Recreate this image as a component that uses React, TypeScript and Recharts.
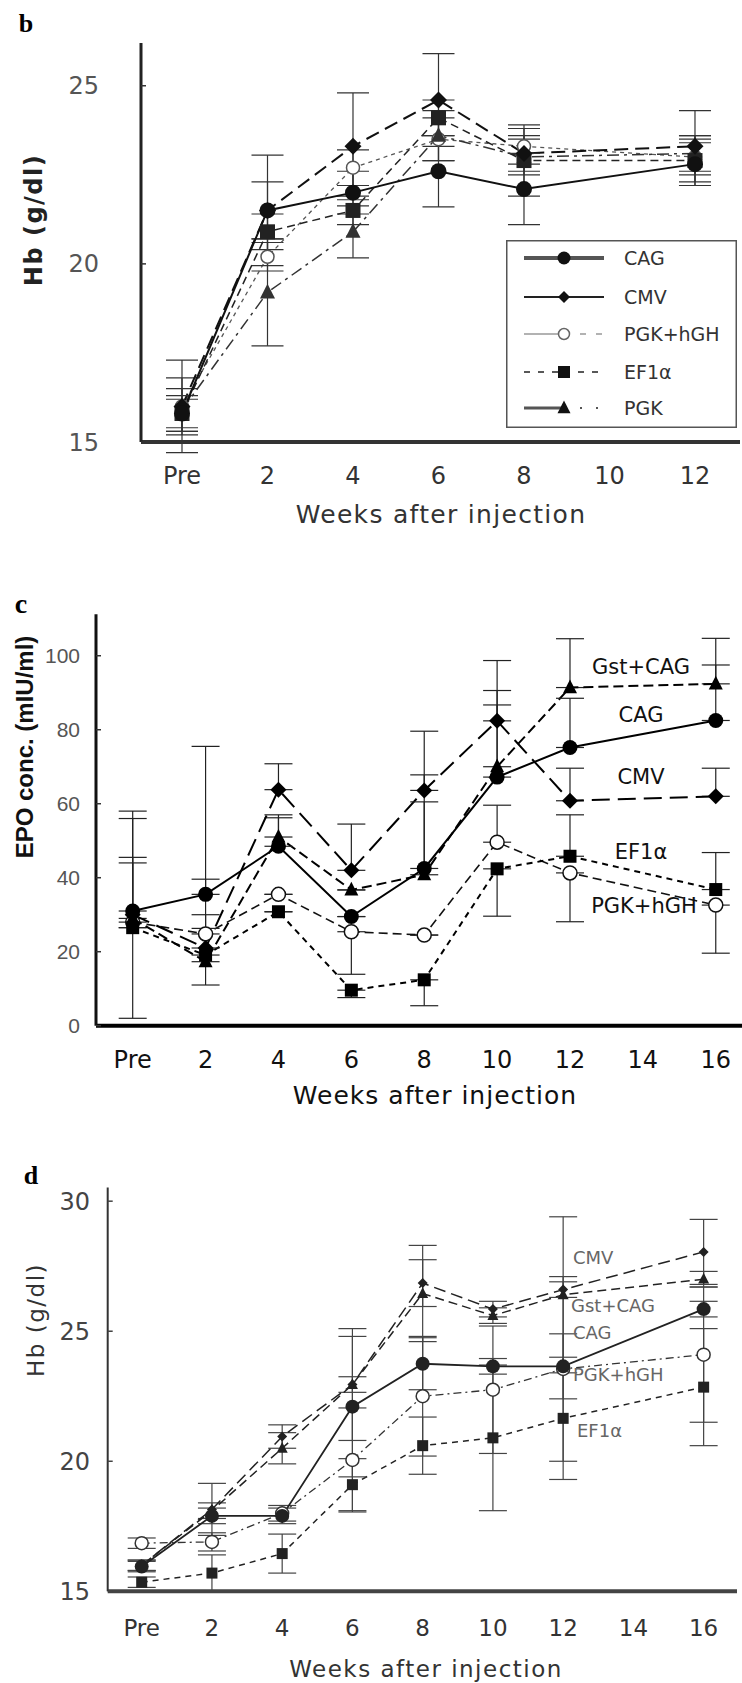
import React from "react";
import { LineChart, Line, XAxis, YAxis, ErrorBar, Legend } from "recharts";

// ---- panel b : Hb, weeks 0-12 ----
const weeksB = [0, 2, 4, 6, 8, 12];
const cagB = [15.8, 21.5, 22.0, 22.6, 22.1, 22.8];
const cmvB = [16.0, 21.5, 23.3, 24.6, 23.1, 23.3];
const pgkHghB = [16.0, 20.2, 22.7, 23.5, 23.3, 23.0];
const ef1aB = [15.8, 20.9, 21.5, 24.1, 22.9, 22.9];
const pgkB = [15.9, 19.2, 20.9, 23.6, 23.0, 23.1];
const cagBErr = [0.5, 1.55, 0.6, 1.0, 1.0, 0.6];
const cmvBErr = [1.3, 0.8, 1.5, 1.3, 0.5, 1.0];
const pgkHghBErr = [0.8, 0.4, 0.5, 0.6, 0.5, 0.5];
const ef1aBErr = [0.4, 0.5, 0.4, 0.5, 1.0, 0.7];
const pgkBErr = [0.6, 1.5, 0.73, 0.7, 0.5, 0.5];
const ticksB = [0, 2, 4, 6, 8, 10, 12];

// ---- panel c : EPO, weeks 0-16 ----
const weeksC = [0, 2, 4, 6, 8, 10, 12, 16];
const cagC = [31, 35.5, 48.5, 29.5, 42.5, 67.2, 75.2, 82.5];
const cmvC = [30, 21, 63.8, 42, 63.6, 82.4, 60.8, 62];
const gstC = [29, 17.3, 51, 36.7, 40.8, 70, 91.4, 92.4];
const ef1aC = [26.5, 19.1, 30.8, 9.6, 12.4, 42.4, 45.8, 36.8];
const pgkHghC = [28, 24.8, 35.5, 25.4, 24.5, 49.6, 41.3, 32.6];
// [below, above]
const cagCErr = [[0, 25], [0, 40], [0, 8.5], [0, 0], [0, 18], [0, 19.5], [0, 13.3], [0, 15]];
const cmvCErr = [[28, 28], [10, 0], [0, 7], [0, 12.5], [0, 16], [0, 16.3], [0, 8.8], [0, 7.6]];
const gstCErr = [[0, 16.5], [0, 12.7], [0, 5.2], [0, 0], [0, 27], [0, 20.6], [0, 13.2], [0, 12.3]];
const ef1aCErr = [[0, 0], [0, 7.2], [0, 0], [2, 0], [7, 0], [12.8, 0], [0, 11.2], [0, 10]];
const pgkHghCErr = [[0, 16], [0, 14.8], [0, 0], [11.5, 0], [0, 0], [0, 10], [13.2, 0], [13, 0]];
const ticksC = [0, 2, 4, 6, 8, 10, 12, 14, 16];

// ---- panel d : Hb, weeks 0-16 ----
const weeksD = [0, 2, 4, 6, 8, 10, 12, 16];
const cagD = [15.95, 17.9, 17.9, 22.1, 23.75, 23.65, 23.65, 25.85];
const cmvD = [16.0, 18.15, 20.95, 22.95, 26.85, 25.85, 26.6, 28.05];
const gstD = [16.0, 18.1, 20.5, 22.95, 26.45, 25.6, 26.4, 27.0];
const pgkHghD = [16.85, 16.9, 18.0, 20.05, 22.5, 22.75, 23.55, 24.1];
const ef1aD = [15.35, 15.7, 16.45, 19.1, 20.6, 20.9, 21.65, 22.85];
const cagDErr = [0.2, 0.3, 0.3, 2.7, 1.0, 0.3, 1.25, 0.3];
const cmvDErr = [0.2, 1.0, 0.45, 2.15, 0.9, 0.3, 0.3, 1.25];
const gstDErr = [0.2, 0.3, 0.6, 0.3, 1.85, 0.3, 3.0, 0.3];
const pgkHghDErr = [0.2, 0.35, 0.3, 2.0, 2.3, 2.45, 3.55, 2.6];
const ef1aDErr = [0.2, 0.7, 0.75, 1.0, 1.1, 2.8, 2.35, 2.25];
const ticksD = [0, 2, 4, 6, 8, 10, 12, 14, 16];

type Kind = "circle" | "open" | "square" | "diamond" | "triangle";

function marker(kind: Kind, x: number, y: number, s: number, color: string) {
  const h = s / 2;
  if (kind === "circle") return <circle cx={x} cy={y} r={h} fill={color} />;
  if (kind === "open")
    return <circle cx={x} cy={y} r={h} fill="#fff" stroke={color} strokeWidth={1.5} />;
  if (kind === "square") return <rect x={x - h} y={y - h} width={s} height={s} fill={color} />;
  if (kind === "diamond")
    return <polygon points={`${x},${y - h} ${x + h},${y} ${x},${y + h} ${x - h},${y}`} fill={color} />;
  return (
    <polygon
      points={`${x},${y - s * 0.58} ${x + h},${y + s * 0.4} ${x - h},${y + s * 0.4}`}
      fill={color}
    />
  );
}

const dotFor = (kind: Kind, size: number, color: string) => (props: any) => {
  const { cx, cy, index } = props;
  if (cx == null || cy == null) return <g key={`n${index}`} />;
  return <g key={`d${index}`}>{marker(kind, cx, cy, size, color)}</g>;
};

const rows = (weeks: number[], vals: number[], errs: any[]) =>
  weeks.map((w, i) => ({ week: w, v: vals[i], err: errs[i] }));

const weekLabel = (v: number) => (v === 0 ? "Pre" : String(v));

type Series = {
  name: string;
  data: any[];
  kind: Kind;
  size: number;
  color: string;
  width: number;
  dash?: string;
};

const seriesB: Series[] = [
  { name: "PGK+hGH", data: rows(weeksB, pgkHghB, pgkHghBErr), kind: "open", size: 13, color: "#555", width: 1.3, dash: "4 4" },
  { name: "PGK", data: rows(weeksB, pgkB, pgkBErr), kind: "triangle", size: 15, color: "#333", width: 1.5, dash: "12 5 3 5" },
  { name: "EF1α", data: rows(weeksB, ef1aB, ef1aBErr), kind: "square", size: 15, color: "#222", width: 1.5, dash: "8 5" },
  { name: "CMV", data: rows(weeksB, cmvB, cmvBErr), kind: "diamond", size: 17, color: "#111", width: 2, dash: "14 7" },
  { name: "CAG", data: rows(weeksB, cagB, cagBErr), kind: "circle", size: 16, color: "#111", width: 2 },
];

const seriesC: Series[] = [
  { name: "PGK+hGH", data: rows(weeksC, pgkHghC, pgkHghCErr), kind: "open", size: 14, color: "#111", width: 1.6, dash: "9 5" },
  { name: "EF1α", data: rows(weeksC, ef1aC, ef1aCErr), kind: "square", size: 13, color: "#000", width: 2, dash: "6 5" },
  { name: "Gst+CAG", data: rows(weeksC, gstC, gstCErr), kind: "triangle", size: 14, color: "#000", width: 2, dash: "10 5" },
  { name: "CMV", data: rows(weeksC, cmvC, cmvCErr), kind: "diamond", size: 16, color: "#000", width: 2, dash: "18 8" },
  { name: "CAG", data: rows(weeksC, cagC, cagCErr), kind: "circle", size: 15, color: "#000", width: 2 },
];

const seriesD: Series[] = [
  { name: "EF1α", data: rows(weeksD, ef1aD, ef1aDErr), kind: "square", size: 11, color: "#222", width: 1.5, dash: "6 5" },
  { name: "PGK+hGH", data: rows(weeksD, pgkHghD, pgkHghDErr), kind: "open", size: 13, color: "#333", width: 1.3, dash: "8 4 2 4" },
  { name: "Gst+CAG", data: rows(weeksD, gstD, gstDErr), kind: "triangle", size: 11, color: "#222", width: 1.5, dash: "9 5" },
  { name: "CMV", data: rows(weeksD, cmvD, cmvDErr), kind: "diamond", size: 10, color: "#222", width: 1.5, dash: "12 6" },
  { name: "CAG", data: rows(weeksD, cagD, cagDErr), kind: "circle", size: 14, color: "#222", width: 1.8 },
];

function renderLines(list: Series[], capWidth: number, errColor: string) {
  return list.map((s) => (
    <Line
      key={s.name}
      data={s.data}
      dataKey="v"
      name={s.name}
      type="linear"
      stroke={s.color}
      strokeWidth={s.width}
      strokeDasharray={s.dash}
      dot={dotFor(s.kind, s.size, s.color)}
      activeDot={false}
      isAnimationActive={false}
    >
      <ErrorBar dataKey="err" direction="y" width={capWidth} stroke={errColor} strokeWidth={1.2} />
    </Line>
  ));
}

const legendRows = [
  { name: "CAG", kind: "circle" as Kind, size: 13, left: { w: 4, dash: undefined }, right: { w: 4, dash: undefined }, color: "#555" },
  { name: "CMV", kind: "diamond" as Kind, size: 12, left: { w: 2, dash: undefined }, right: { w: 2, dash: undefined }, color: "#222" },
  { name: "PGK+hGH", kind: "open" as Kind, size: 11, left: { w: 1.2, dash: undefined }, right: { w: 1.2, dash: "6 10" }, color: "#666" },
  { name: "EF1α", kind: "square" as Kind, size: 12, left: { w: 1.5, dash: "6 8" }, right: { w: 1.5, dash: "6 8" }, color: "#222" },
  { name: "PGK", kind: "triangle" as Kind, size: 13, left: { w: 3, dash: undefined }, right: { w: 2, dash: "2 14" }, color: "#555" },
];

function LegendBox() {
  const rowY = [18, 57, 94, 132, 168];
  return (
    <svg width={231} height={188} style={{ display: "block" }}>
      <rect x={0.75} y={0.75} width={229.5} height={186.5} fill="#fff" stroke="#555" strokeWidth={1.5} />
      {legendRows.map((r, i) => (
        <g key={r.name}>
          <line x1={18} x2={58} y1={rowY[i]} y2={rowY[i]} stroke={r.color} strokeWidth={r.left.w} strokeDasharray={r.left.dash} />
          <line x1={58} x2={98} y1={rowY[i]} y2={rowY[i]} stroke={r.color} strokeWidth={r.right.w} strokeDasharray={r.right.dash} />
          {marker(r.kind, 58, rowY[i], r.size, r.kind === "open" ? "#666" : "#111")}
          <text x={118} y={rowY[i]} dominantBaseline="central" fontSize={19} fontFamily="DejaVu Sans" fill="#333">
            {r.name}
          </text>
        </g>
      ))}
    </svg>
  );
}

type Note = {
  text: string;
  x: number;
  y: number;
  size: number;
  family?: string;
  weight?: string | number;
  color?: string;
  anchor?: "start" | "middle" | "end";
  rotate?: boolean;
  spacing?: number;
};

const notes: Note[] = [
  { text: "b", x: 26, y: 23, size: 26, family: "Liberation Serif", weight: "bold", color: "#000" },
  { text: "Hb (g/dl)", x: 34, y: 220, size: 24, weight: "bold", color: "#222", rotate: true, spacing: 1.5 },
  { text: "Weeks after injection", x: 441, y: 514, size: 25, color: "#333", spacing: 1.3 },
  { text: "c", x: 21, y: 603, size: 28, family: "Liberation Serif", weight: "bold", color: "#000" },
  { text: "EPO conc. (mIU/ml)", x: 24, y: 747, size: 24, family: "Liberation Sans", weight: "bold", color: "#111", rotate: true },
  { text: "Weeks after injection", x: 435, y: 1095, size: 25, color: "#111", spacing: 1 },
  { text: "Gst+CAG", x: 641, y: 667, size: 21, color: "#111" },
  { text: "CAG", x: 641, y: 715, size: 21, color: "#111" },
  { text: "CMV", x: 641, y: 777, size: 21, color: "#111" },
  { text: "EF1α", x: 641, y: 852, size: 21, color: "#111" },
  { text: "PGK+hGH", x: 644, y: 906, size: 21, color: "#111" },
  { text: "d", x: 31, y: 1175, size: 26, family: "Liberation Serif", weight: "bold", color: "#000" },
  { text: "Hb (g/dl)", x: 36, y: 1320, size: 23, color: "#333", rotate: true, spacing: 1.5 },
  { text: "Weeks after injection", x: 426, y: 1669, size: 23, color: "#333", spacing: 1.5 },
  { text: "CMV", x: 573, y: 1257, size: 18, color: "#666", anchor: "start" },
  { text: "Gst+CAG", x: 571, y: 1305, size: 18, color: "#666", anchor: "start" },
  { text: "CAG", x: 573, y: 1332, size: 18, color: "#666", anchor: "start" },
  { text: "PGK+hGH", x: 573, y: 1374, size: 18, color: "#666", anchor: "start" },
  { text: "EF1α", x: 577, y: 1430, size: 18, color: "#666", anchor: "start" },
];

export default function App() {
  return (
    <div style={{ position: "absolute", left: 0, top: 0, width: 742, height: 1683, background: "#fff" }}>
      {/* panel b */}
      <div style={{ position: "absolute", left: 0, top: 0 }}>
        <LineChart width={742} height={540} margin={{ top: 43, right: 2, bottom: 0, left: 0 }}>
          <XAxis
            type="number"
            dataKey="week"
            domain={[-0.959, 13.053]}
            allowDataOverflow
            ticks={ticksB}
            interval={0}
            tickFormatter={weekLabel}
            height={98}
            tickLine={false}
            tickSize={0}
            tickMargin={25}
            axisLine={{ stroke: "#333", strokeWidth: 4 }}
            tick={{ fill: "#333", fontSize: 24, fontFamily: "DejaVu Sans" }}
          />
          <YAxis
            type="number"
            domain={[15, 26.2]}
            allowDataOverflow
            ticks={[15, 20, 25]}
            interval={0}
            width={141}
            tickSize={-5}
            tickMargin={47}
            axisLine={{ stroke: "#222", strokeWidth: 3 }}
            tickLine={{ stroke: "#333", strokeWidth: 1.5 }}
            tick={{ fill: "#555", fontSize: 24, fontFamily: "DejaVu Sans" }}
          />
          {renderLines(seriesB, 16, "#333")}
          <Legend
            layout="vertical"
            align="center"
            verticalAlign="middle"
            wrapperStyle={{ left: 506, top: 240, width: 231, height: 188 }}
            content={() => <LegendBox />}
          />
        </LineChart>
      </div>

      {/* panel c */}
      <div style={{ position: "absolute", left: 0, top: 580 }}>
        <LineChart width={742} height={560} margin={{ top: 34.3, right: 0, bottom: 0, left: 0 }}>
          <XAxis
            type="number"
            dataKey="week"
            domain={[-1.007, 16.72]}
            allowDataOverflow
            ticks={ticksC}
            interval={0}
            tickFormatter={weekLabel}
            height={114.3}
            tickLine={false}
            tickSize={0}
            tickMargin={25}
            axisLine={{ stroke: "#000", strokeWidth: 4 }}
            tick={{ fill: "#111", fontSize: 24, fontFamily: "DejaVu Sans" }}
          />
          <YAxis
            type="number"
            domain={[0, 111.2]}
            allowDataOverflow
            ticks={[0, 20, 40, 60, 80, 100]}
            interval={0}
            width={96}
            tickSize={-5}
            tickMargin={21}
            axisLine={{ stroke: "#111", strokeWidth: 3 }}
            tickLine={{ stroke: "#333", strokeWidth: 1.5 }}
            tick={{ fill: "#555", fontSize: 21, fontFamily: "Liberation Sans" }}
          />
          {renderLines(seriesC, 14, "#222")}
        </LineChart>
      </div>

      {/* panel d */}
      <div style={{ position: "absolute", left: 0, top: 1140 }}>
        <LineChart width={742} height={543} margin={{ top: 47.4, right: 5, bottom: 0, left: 0 }}>
          <XAxis
            type="number"
            dataKey="week"
            domain={[-0.968, 16.95]}
            allowDataOverflow
            ticks={ticksD}
            interval={0}
            tickFormatter={weekLabel}
            height={91.7}
            tickLine={false}
            tickSize={0}
            tickMargin={28.7}
            axisLine={{ stroke: "#444", strokeWidth: 4 }}
            tick={{ fill: "#333", fontSize: 23, fontFamily: "DejaVu Sans" }}
          />
          <YAxis
            type="number"
            domain={[15, 30.53]}
            allowDataOverflow
            ticks={[15, 20, 25, 30]}
            interval={0}
            width={107.7}
            tickSize={-5}
            tickMargin={22.7}
            axisLine={{ stroke: "#333", strokeWidth: 2 }}
            tickLine={{ stroke: "#444", strokeWidth: 1.5 }}
            tick={{ fill: "#444", fontSize: 24, fontFamily: "DejaVu Sans" }}
          />
          {renderLines(seriesD, 14, "#444")}
        </LineChart>
      </div>

      <svg
        width={742}
        height={1683}
        style={{ position: "absolute", left: 0, top: 0, pointerEvents: "none" }}
      >
        {notes.map((n, i) => (
          <text
            key={i}
            x={n.x}
            y={n.y}
            fontSize={n.size}
            fontFamily={n.family ?? "DejaVu Sans"}
            fontWeight={n.weight ?? "normal"}
            fill={n.color ?? "#222"}
            textAnchor={n.anchor ?? "middle"}
            dominantBaseline="central"
            letterSpacing={n.spacing ?? 0}
            transform={n.rotate ? `rotate(-90 ${n.x} ${n.y})` : undefined}
          >
            {n.text}
          </text>
        ))}
      </svg>
    </div>
  );
}
